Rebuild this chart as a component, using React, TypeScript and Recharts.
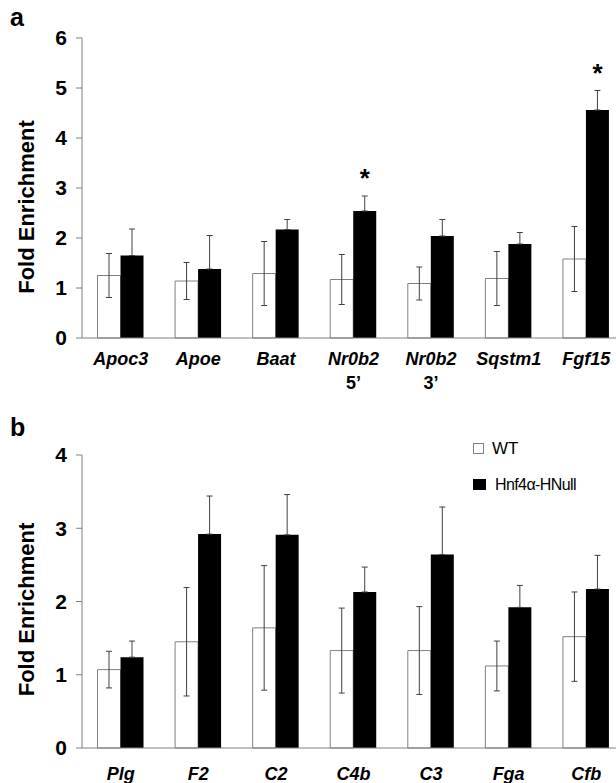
import React from 'react';
import { BarChart, Bar, XAxis, YAxis, ErrorBar, LabelList, Label } from 'recharts';

const FONT = '"Liberation Sans", Arial, sans-serif';

// panel a
const genesA = ['Apoc3', 'Apoe', 'Baat', 'Nr0b2', 'Nr0b2', 'Sqstm1', 'Fgf15'];
const subsA = ['', '', '', '5’', '3’', '', ''];
const wtA = [1.25, 1.14, 1.29, 1.17, 1.09, 1.19, 1.58];
const wtErrA = [0.44, 0.37, 0.64, 0.5, 0.33, 0.54, 0.65];
const koA = [1.65, 1.38, 2.17, 2.54, 2.04, 1.88, 4.56];
const koErrA = [0.53, 0.67, 0.2, 0.3, 0.33, 0.23, 0.39];
const sigA = ['', '', '', '*', '', '', '*'];
const ticksA = [0, 1, 2, 3, 4, 5, 6];

// panel b
const genesB = ['Plg', 'F2', 'C2', 'C4b', 'C3', 'Fga', 'Cfb'];
const subsB = ['', '', '', '', '', '', ''];
const wtB = [1.07, 1.45, 1.64, 1.33, 1.33, 1.12, 1.52];
const wtErrB = [0.25, 0.74, 0.85, 0.58, 0.6, 0.34, 0.61];
const koB = [1.24, 2.92, 2.91, 2.13, 2.64, 1.92, 2.17];
const koErrB = [0.22, 0.52, 0.55, 0.34, 0.65, 0.3, 0.46];
const ticksB = [0, 1, 2, 3, 4];

const seriesNames = ['WT', 'Hnf4α-HNull'];

const buildRows = (genes: string[], wt: number[], wtErr: number[], ko: number[], koErr: number[]) =>
  genes.map((g, i) => ({ name: g, wt: wt[i], wtErr: wtErr[i], ko: ko[i], koErr: [0, koErr[i]] }));

const dataA = buildRows(genesA, wtA, wtErrA, koA, koErrA);
const dataB = buildRows(genesB, wtB, wtErrB, koB, koErrB);

const makeTick = (subs: string[], dy: number) => (props: any) => {
  const { x, y, payload } = props;
  const sub = subs[payload.index] || '';
  return (
    <g>
      <text x={x} y={y + dy} textAnchor="middle" fontFamily={FONT} fontSize={18} fontWeight="bold" fontStyle="italic" fill="#000">
        {payload.value}
      </text>
      {sub && (
        <text x={x} y={y + dy + 24} textAnchor="middle" fontFamily={FONT} fontSize={18} fontWeight="bold" fill="#000">
          {sub}
        </text>
      )}
    </g>
  );
};

const makeTitle = (shift: number) => (p: any) => {
  const vb = p.viewBox || { y: 0, height: 0 };
  const cx = 26;
  const cy = vb.y + vb.height / 2 + shift;
  return (
    <text x={cx} y={cy} transform={`rotate(-90 ${cx} ${cy})`} textAnchor="middle" dominantBaseline="central"
      fontFamily={FONT} fontSize={22} fontWeight="bold" fill="#000">
      Fold Enrichment
    </text>
  );
};

const renderSig = (p: any) => {
  const { x, y, width, height, value, index } = p;
  const mark = sigA[index];
  if (!mark) return null;
  const ppu = height / value;
  const errTop = y - koErrA[index] * ppu;
  return (
    <text x={x + width / 2} y={errTop - 9} textAnchor="middle" fontFamily={FONT} fontSize={26} fontWeight="bold" fill="#000">
      {mark}
    </text>
  );
};

const yTick = { fontFamily: FONT, fontSize: 21, fontWeight: 'bold', fill: '#000' };

const App: React.FC = () => {
  return (
    <div style={{ position: 'absolute', left: 0, top: 0, width: 616, height: 783, overflow: 'hidden', background: '#fff', fontFamily: FONT }}>
      <div style={{ position: 'absolute', left: 10, top: 0, fontSize: 25, fontWeight: 'bold', lineHeight: '34px' }}>a</div>
      <div style={{ position: 'absolute', left: 0, top: 0 }}>
        <BarChart width={640} height={400} data={dataA} margin={{ top: 38, right: 15, bottom: 0, left: 0 }}
          barCategoryGap="20%" barGap={0}>
          <XAxis dataKey="name" height={62} axisLine={{ stroke: '#808080' }} tickLine={false} interval={0}
            tick={makeTick(subsA, 19)} />
          <YAxis width={82} domain={[0, 6]} ticks={ticksA} axisLine={{ stroke: '#808080' }} tickLine={{ stroke: '#808080' }}
            tickSize={6} tickMargin={9} tick={yTick}>
            <Label content={makeTitle(19)} />
          </YAxis>
          <Bar dataKey="wt" name={seriesNames[0]} fill="#fff" stroke="#808080" strokeWidth={1} isAnimationActive={false}>
            <ErrorBar dataKey="wtErr" width={3} stroke="#404040" strokeWidth={1} isAnimationActive={false} />
          </Bar>
          <Bar dataKey="ko" name={seriesNames[1]} fill="#000" isAnimationActive={false}>
            <ErrorBar dataKey="koErr" width={3} stroke="#404040" strokeWidth={1} isAnimationActive={false} />
            <LabelList dataKey="ko" content={renderSig} />
          </Bar>
        </BarChart>
      </div>

      <div style={{ position: 'absolute', left: 10, top: 410, fontSize: 25, fontWeight: 'bold', lineHeight: '34px' }}>b</div>
      <div style={{ position: 'absolute', left: 0, top: 400 }}>
        <BarChart width={640} height={383} data={dataB} margin={{ top: 55, right: 15, bottom: 0, left: 0 }}
          barCategoryGap="20%" barGap={0}>
          <XAxis dataKey="name" height={35} axisLine={{ stroke: '#808080' }} tickLine={false} interval={0}
            tick={makeTick(subsB, 24)} />
          <YAxis width={82} domain={[0, 4]} ticks={ticksB} axisLine={{ stroke: '#808080' }} tickLine={{ stroke: '#808080' }}
            tickSize={6} tickMargin={9} tick={yTick}>
            <Label content={makeTitle(8)} />
          </YAxis>
          <Bar dataKey="wt" name={seriesNames[0]} fill="#fff" stroke="#808080" strokeWidth={1} isAnimationActive={false}>
            <ErrorBar dataKey="wtErr" width={3} stroke="#404040" strokeWidth={1} isAnimationActive={false} />
          </Bar>
          <Bar dataKey="ko" name={seriesNames[1]} fill="#000" isAnimationActive={false}>
            <ErrorBar dataKey="koErr" width={3} stroke="#404040" strokeWidth={1} isAnimationActive={false} />
          </Bar>
        </BarChart>
      </div>

      {/* legend */}
      <div style={{ position: 'absolute', left: 473, top: 443, width: 11, height: 11, border: '1px solid #808080', background: '#fff', boxSizing: 'border-box' }} />
      <div style={{ position: 'absolute', left: 492, top: 440, fontSize: 17, lineHeight: '17px', color: '#000' }}>{seriesNames[0]}</div>
      <div style={{ position: 'absolute', left: 473, top: 479, width: 13, height: 11, background: '#000' }} />
      <div style={{ position: 'absolute', left: 495, top: 477, fontSize: 16, lineHeight: '16px', letterSpacing: '-0.6px', color: '#000' }}>{seriesNames[1]}</div>
    </div>
  );
};

export default App;
